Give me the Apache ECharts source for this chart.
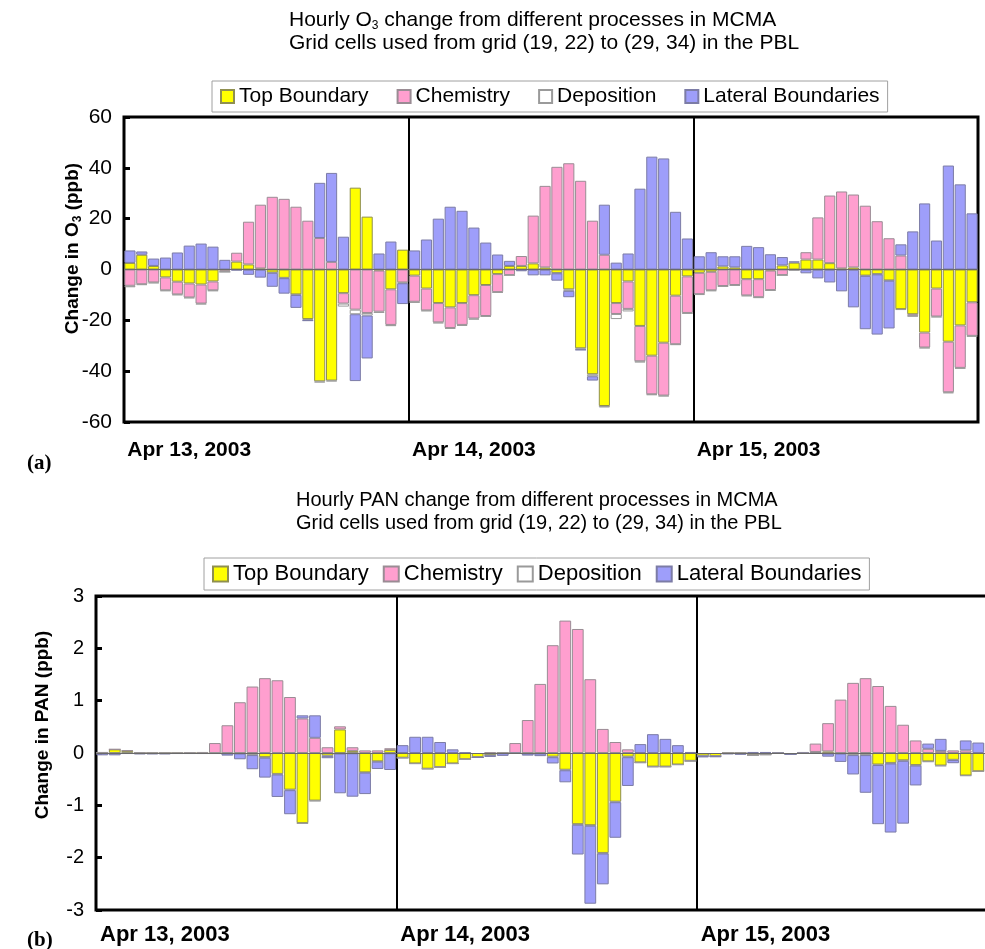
<!DOCTYPE html>
<html><head><meta charset="utf-8">
<script src="https://cdn.jsdelivr.net/npm/echarts@6/dist/echarts.min.js"></script>
<style>html,body{margin:0;padding:0;background:#fff}#c{width:985px;height:949px}</style>
</head><body><div id="c"></div>
<script>
// ---------- data ----------
const dayLabels = ['Apr 13, 2003', 'Apr 14, 2003', 'Apr 15, 2003'];
const hourLabels = ['00','01','02','03','04','05','06','07','08','09','10','11','12','13','14','15','16','17','18','19','20','21','22','23'];
const seriesNames = ['Top Boundary', 'Chemistry', 'Deposition', 'Lateral Boundaries'];
const o3TickValues = [-60, -40, -20, 0, 20, 40, 60];
const panTickValues = [-3, -2, -1, 0, 1, 2, 3];

// O3 (ppb/hour), 72 hourly values, Apr 13-15
const o3Top = [2.6, 5.8, 1.4, -3.1, -4.8, -5.5, -5.9, -4.7, -0.3, 3.1, 2.0, 0.4, -1.2, -3.3, -9.8, -19.5, -44.0, -43.7, -9.3, 32.2, 20.8, -0.4, -7.8, 7.8,
  -2.4, -7.5, -13.2, -14.9, -13.2, -10.1, -6.1, -1.8, 1.4, 1.4, 2.4, 0.8, -1.4, -7.8, -31.0, -41.2, -53.7, -13.2, -4.7, -22.2, -33.9, -28.8, -10.3, -2.7,
  -1.3, -0.9, 1.2, 0.8, -3.8, -3.8, -0.4, 1.6, 2.7, 3.9, 3.9, 2.5, 0.4, 0.8, -2.4, -1.8, -4.3, -15.6, -17.6, -24.8, -7.5, -28.4, -22.0, -12.9];
const o3Chem = [-6.4, -5.8, -5.1, -5.1, -5.0, -5.5, -7.5, -3.5, -0.6, 3.5, 16.8, 25.1, 28.6, 27.8, 24.7, 19.2, 12.4, 3.0, -4.1, -15.8, -17.1, -16.2, -14.0, -5.1,
  -10.3, -8.6, -7.6, -8.1, -8.6, -9.2, -12.2, -7.1, -2.2, 3.9, 18.8, 32.1, 40.4, 41.8, 34.9, 19.2, 5.8, -4.3, -10.8, -13.9, -15.2, -20.8, -19.1, -14.4,
  -8.4, -7.3, -6.5, -6.1, -6.4, -7.1, -7.7, -2.2, -0.2, 2.9, 16.6, 26.6, 30.3, 28.7, 25.1, 19.0, 12.3, 5.5, -0.6, -5.9, -11.0, -19.9, -16.7, -13.2];
const o3Dep = [-0.6, -0.3, -0.3, -0.3, -0.3, -0.3, -0.3, -0.3, -0.1, -0.1, -0.1, -0.1, -0.1, -0.1, -0.2, -0.5, -0.5, -0.3, -1.2, -1.8, -1.0, -0.5, -0.5, -0.3,
  -0.4, -0.3, -0.4, -0.4, -0.4, -0.4, -0.3, -0.3, -0.1, -0.1, -0.1, -0.1, -0.1, -0.6, -0.5, -0.8, -0.6, -2.0, -1.0, -0.5, -0.3, -0.3, -0.3, -0.3,
  -0.3, -0.3, -0.3, -0.3, -0.3, -0.3, -0.3, -0.1, -0.1, -0.1, -0.1, -0.1, -0.1, -0.1, -0.1, -0.1, -0.1, -0.3, -0.3, -0.3, -0.3, -0.4, -0.3, -0.3];
const o3Lat = [4.9, 1.3, 2.9, 4.7, 6.7, 9.4, 10.2, 9.0, 3.8, -0.2, -2.0, -3.1, -5.5, -6.1, -5.1, -0.2, 21.7, 35.0, 12.9, -26.3, -16.9, 6.3, 11.0, -8.2,
  7.5, 11.8, 20.0, 24.7, 23.1, 16.5, 10.6, 5.9, 2.0, -0.6, -2.2, -2.2, -2.9, -2.5, -0.2, -1.7, 19.7, 2.7, 6.3, 31.8, 44.4, 43.7, 22.7, 12.2,
  5.2, 6.8, 4.0, 4.4, 9.3, 8.8, 6.0, 3.3, 0.5, -1.4, -3.4, -5.0, -8.5, -14.8, -21.0, -23.7, -18.8, 4.4, 15.0, 26.0, 11.4, 40.9, 33.5, 22.1];

// PAN (ppb/hour), 72 hourly values, Apr 13-15
const panTop = [0.01, 0.07, 0.04, 0.0, 0.0, 0.0, 0.0, 0.0, 0.0, 0.0, 0.0, 0.0, -0.03, -0.08, -0.40, -0.70, -1.34, -0.91, -0.05, 0.45, 0.04, -0.37, -0.16, 0.06,
  -0.09, -0.20, -0.30, -0.27, -0.20, -0.12, -0.08, -0.04, 0.0, 0.0, 0.0, 0.0, -0.07, -0.32, -1.36, -1.38, -1.91, -0.93, -0.07, -0.18, -0.26, -0.26, -0.22, -0.15,
  -0.05, -0.06, 0.0, 0.0, -0.04, -0.03, 0.0, -0.02, 0.0, 0.02, 0.03, 0.0, -0.03, -0.03, -0.22, -0.19, -0.14, -0.23, -0.16, -0.24, -0.13, -0.43, -0.35, -0.33];
const panChem = [0.0, 0.0, 0.01, 0.01, 0.0, 0.0, 0.0, 0.01, 0.02, 0.19, 0.53, 0.97, 1.27, 1.43, 1.39, 1.07, 0.66, 0.29, 0.11, 0.06, 0.07, 0.05, 0.05, 0.03,
  0.0, 0.0, 0.0, 0.0, 0.0, 0.0, 0.0, 0.01, 0.0, 0.19, 0.63, 1.32, 2.06, 2.53, 2.37, 1.41, 0.46, 0.21, 0.07, 0.0, 0.0, 0.0, 0.0, 0.0,
  0.0, 0.0, 0.0, 0.0, 0.0, 0.0, 0.0, 0.0, 0.02, 0.16, 0.54, 1.02, 1.34, 1.43, 1.28, 0.90, 0.54, 0.24, 0.08, 0.04, 0.05, 0.05, 0.0, 0.0];
const panDep = [-0.005, -0.005, -0.005, -0.005, -0.005, -0.005, -0.005, -0.005, -0.005, -0.005, -0.01, -0.01, -0.01, -0.01, -0.01, -0.01, -0.01, -0.01, -0.01, -0.01, -0.005, -0.005, -0.005, -0.005,
  -0.005, -0.005, -0.005, -0.005, -0.005, -0.005, -0.005, -0.005, -0.005, -0.005, -0.01, -0.01, -0.01, -0.01, -0.01, -0.01, -0.01, -0.01, -0.01, -0.01, -0.005, -0.005, -0.005, -0.005,
  -0.005, -0.005, -0.005, -0.005, -0.005, -0.005, -0.005, -0.005, -0.005, -0.005, -0.01, -0.01, -0.01, -0.01, -0.01, -0.01, -0.01, -0.01, -0.01, -0.01, -0.005, -0.005, -0.005, -0.005];
const panLat = [-0.04, -0.04, -0.01, -0.02, -0.02, -0.02, -0.01, -0.01, -0.01, -0.01, -0.04, -0.11, -0.27, -0.38, -0.43, -0.46, 0.06, 0.43, -0.04, -0.76, -0.83, -0.41, -0.14, -0.32,
  0.15, 0.31, 0.31, 0.21, 0.07, 0.01, 0.0, -0.03, -0.05, 0.0, -0.04, -0.05, -0.12, -0.23, -0.57, -1.49, -0.59, -0.68, -0.55, 0.17, 0.36, 0.27, 0.15, 0.02,
  -0.03, -0.01, -0.02, -0.03, 0.02, 0.02, 0.0, 0.0, 0.0, 0.0, -0.06, -0.16, -0.37, -0.72, -1.13, -1.32, -1.20, -0.38, 0.10, 0.23, -0.06, 0.19, 0.20, 0.20];

// ---------- build ----------
const categories = [];
dayLabels.forEach(d => hourLabels.forEach(h => categories.push(d + ' ' + h + ':00')));
const perDay = hourLabels.length;

const SANS = "'Liberation Sans', Arial, Helvetica, sans-serif";
const SERIF = "'Liberation Serif', 'Times New Roman', serif";
const fills = ['#FFFF00', '#FF9FCF', '#FFFFFF', '#9E9EFA'];
const borders = ['#8f8f50', '#9a8c94', '#9a9a9a', '#7c7ca6'];

function richTitle(size) {
  return {
    t: { fontSize: size, fontWeight: 'normal', fontFamily: SANS, color: '#000', lineHeight: 23 },
    s: { fontSize: 12, fontWeight: 'normal', fontFamily: SANS, color: '#000', lineHeight: 11, verticalAlign: 'bottom' }
  };
}
function richName(size) {
  return {
    b: { fontSize: size, fontWeight: 'bold', fontFamily: SANS, color: '#000', lineHeight: 22 },
    s: { fontSize: 12, fontWeight: 'bold', fontFamily: SANS, color: '#000', lineHeight: 12, verticalAlign: 'bottom' }
  };
}
function legendCfg(left, top, gap, size, icon) {
  return {
    left: left, top: top, icon: 'rect', itemWidth: icon, itemHeight: icon, itemGap: gap,
    padding: [5, 8, 5, 8], borderColor: '#a0a0a0', borderWidth: 1, selectedMode: false,
    textStyle: { fontSize: size, color: '#000', fontFamily: SANS, lineHeight: size },
    data: seriesNames
  };
}
function xAxisCfg(gi, margin, size) {
  return {
    type: 'category', gridIndex: gi, data: categories, boundaryGap: true,
    axisLine: { show: false, onZero: false },
    axisTick: { show: false },
    splitLine: { show: true, interval: (i) => i % perDay === 0, lineStyle: { color: '#000', width: 2 } },
    axisLabel: {
      interval: (i) => i % perDay === 5,
      formatter: (v, i) => dayLabels[Math.floor(i / perDay)],
      fontSize: size, fontWeight: 'bold', color: '#000', fontFamily: SANS, margin: margin
    }
  };
}
function yAxisCfg(gi, ticks, name, nameGap, shift, nameSize, labelSize) {
  return {
    type: 'value', gridIndex: gi, min: ticks[0], max: ticks[ticks.length - 1], interval: ticks[1] - ticks[0],
    axisLine: { show: false },
    axisTick: { show: true, inside: true, length: 6, lineStyle: { color: '#000', width: 3 } },
    axisLabel: { fontSize: labelSize, color: '#000', fontFamily: SANS, margin: 12, padding: [6, 0, 0, 0] },
    splitLine: { show: false },
    name: name, nameLocation: 'middle', nameGap: nameGap, nameRotate: 90, nameMoveOverlap: false,
    nameTextStyle: { padding: [0, 0, 0, shift], rich: richName(nameSize) }
  };
}
const panels = [
  [o3Top, o3Chem, o3Dep, o3Lat],
  [panTop, panChem, panDep, panLat]
];
const series = [];
panels.forEach((sets, p) => {
  sets.forEach((vals, s) => {
    const ser = {
      type: 'bar', name: seriesNames[s], xAxisIndex: p, yAxisIndex: p, stack: 'st' + p,
      data: vals, barCategoryGap: '6%',
      itemStyle: { color: fills[s], borderColor: borders[s], borderWidth: 1 },
      emphasis: { disabled: true }
    };
    if (s === 3) {
      ser.markLine = {
        silent: true, symbol: 'none', label: { show: false },
        lineStyle: { color: '#6a6a6a', width: 1, type: 'solid' },
        data: [{ yAxis: 0 }]
      };
    }
    series.push(ser);
  });
});

const option = {
  animation: false,
  backgroundColor: '#ffffff',
  title: [
    { left: 289, top: 9, padding: 0,
      text: '{t|Hourly O}{s|3}{t| change from different processes in MCMA}\n{t|Grid cells used from grid (19, 22) to (29, 34) in the PBL}',
      textStyle: { fontWeight: 'normal', rich: richTitle(21) } },
    { left: 296, top: 489, padding: 0,
      text: '{t|Hourly PAN change from different processes in MCMA}\n{t|Grid cells used from grid (19, 22) to (29, 34) in the PBL}',
      textStyle: { fontWeight: 'normal', rich: richTitle(20) } }
  ],
  legend: [ legendCfg(212, 81, 28, 21, 13), legendCfg(204, 558, 14, 22, 15) ],
  grid: [
    { left: 124, top: 117, width: 854, height: 305, show: true, borderColor: '#000', borderWidth: 3, containLabel: false, outerBoundsMode: 'none' },
    { left: 96, top: 596, width: 901, height: 314, show: true, borderColor: '#000', borderWidth: 3, containLabel: false, outerBoundsMode: 'none' }
  ],
  xAxis: [ xAxisCfg(0, 18, 21), xAxisCfg(1, 14, 22) ],
  yAxis: [
    yAxisCfg(0, o3TickValues, '{b|Change in O}{s|3}{b| (ppb)}', 40, 42, 19, 21),
    yAxisCfg(1, panTickValues, '{b|Change in PAN (ppb)}', 42, 56, 19, 20)
  ],
  graphic: [
    { type: 'text', left: 27, top: 453, style: { text: '(a)', font: 'bold 21px ' + SERIF, fill: '#000' } },
    { type: 'text', left: 27, top: 930, style: { text: '(b)', font: 'bold 21px ' + SERIF, fill: '#000' } }
  ],
  series: series
};
const chart = echarts.init(document.getElementById('c'), null, { renderer: 'canvas' });
chart.setOption(option);
</script>
</body></html>
